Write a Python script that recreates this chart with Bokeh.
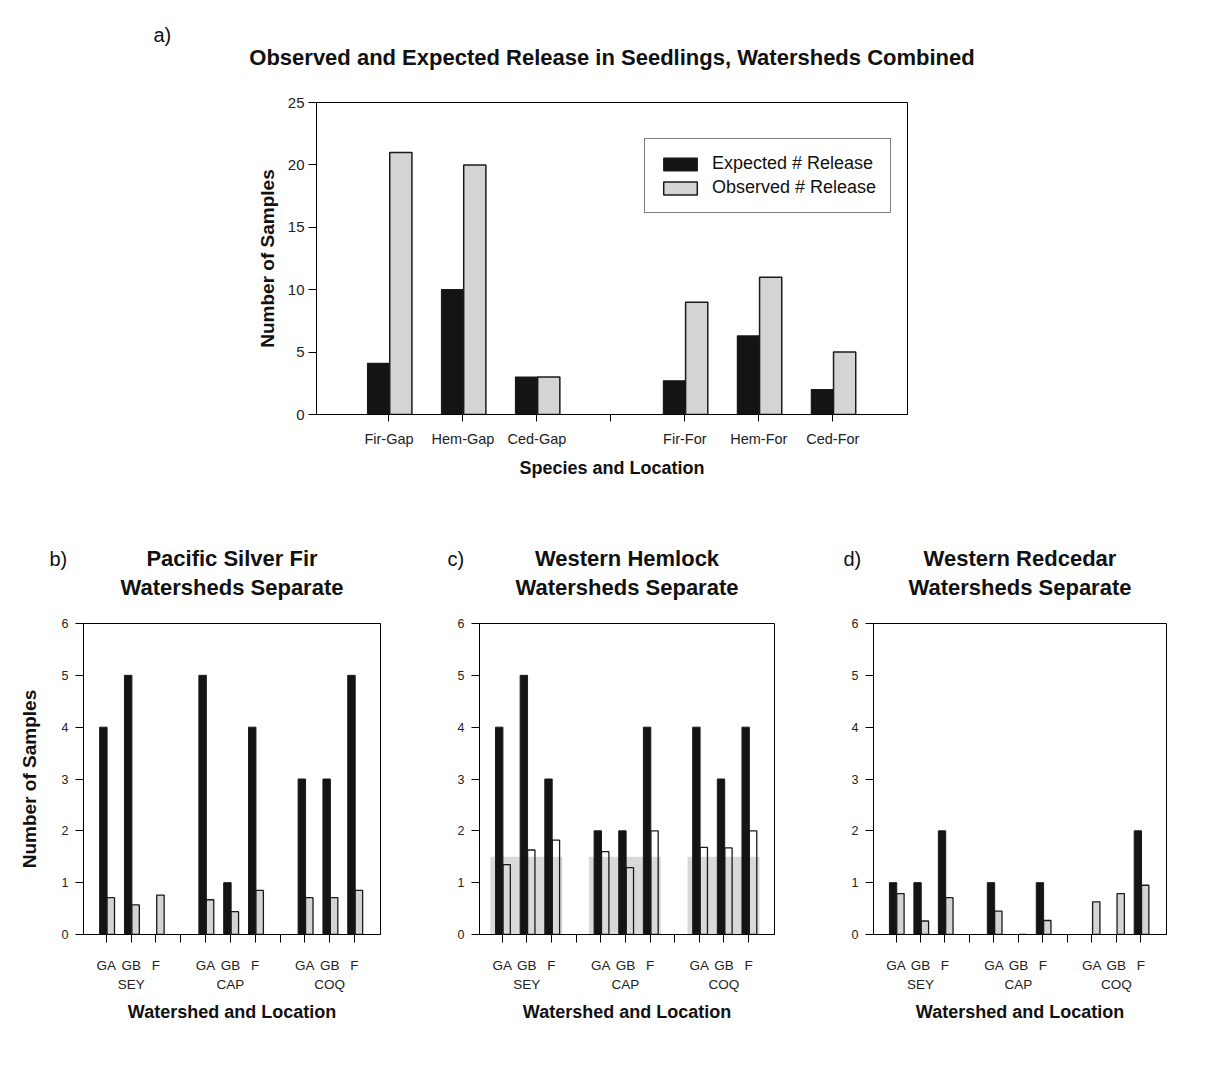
from bokeh.plotting import figure
from bokeh.models import (Range1d, FixedTicker, LinearAxis, Label, Legend,
                          LegendItem, ColumnDataSource)
from bokeh.layouts import column, row
from bokeh.embed import file_html
from bokeh.resources import INLINE

FONT = "Liberation Sans"

# ---------------- data ----------------
top_categories = ["Fir-Gap", "Hem-Gap", "Ced-Gap", "Fir-For", "Hem-For", "Ced-For"]
top_expected = [4.1, 10.0, 3.0, 2.7, 6.3, 2.0]
top_observed = [21, 20, 3, 9, 11, 5]

watersheds = ["SEY", "CAP", "COQ"]
locations = ["GA", "GB", "F"]

fir_black = [4, 5, 0, 5, 1, 4, 3, 3, 5]
fir_gray = [0.71, 0.57, 0.76, 0.67, 0.44, 0.85, 0.71, 0.71, 0.85]

hem_black = [4, 5, 3, 2, 2, 4, 4, 3, 4]
hem_white = [1.35, 1.63, 1.82, 1.60, 1.29, 2.0, 1.68, 1.67, 2.0]
hem_band = [1.5, 1.5, 1.5]

ced_black = [1, 1, 2, 1, 0, 1, 0, 0, 2]
ced_gray = [0.79, 0.26, 0.71, 0.45, 0.0, 0.27, 0.63, 0.79, 0.95]

BLACK = "#141414"
GRAY = "#d4d4d4"
EDGE = "#1a1a1a"
TXT = "#111111"


def style_common(p):
    p.outline_line_color = "black"
    p.outline_line_width = 1
    p.xgrid.visible = False
    p.ygrid.visible = False
    p.background_fill_color = "white"
    p.border_fill_color = "white"


def header(width, height, texts):
    """A blank figure that only carries title texts (pixel coordinates, y from top)."""
    h = figure(width=width, height=height, x_range=Range1d(0, width),
               y_range=Range1d(height, 0), output_backend="svg", toolbar_location=None,
               x_axis_type=None, y_axis_type=None, min_border=0)
    h.outline_line_color = None
    h.xgrid.visible = False
    h.ygrid.visible = False
    h.border_fill_color = "white"
    for txt, x, y, size, style, align in texts:
        h.add_layout(Label(x=x, y=y, text=txt, text_font=FONT, text_font_size=size,
                           text_font_style=style, text_align=align,
                           text_baseline="alphabetic", text_color=TXT))
    return h


# ---------------- top chart ----------------
head_a = header(1218, 90, [
    ("a)", 153, 34, "20px", "normal", "left"),
    ("Observed and Expected Release in Seedlings, Watersheds Combined", 611.5, 56.7,
     "22px", "bold", "center"),
])

top_pos = [i + 1 if i < 3 else i + 2 for i in range(len(top_categories))]
src_top = ColumnDataSource(dict(
    xe=[x - 0.15 + 0.01 for x in top_pos],
    xo=[x + 0.15 + 0.01 for x in top_pos],
    exp=top_expected, obs=top_observed))

pa = figure(width=1218, height=415, x_range=Range1d(0.02, 8.01), y_range=Range1d(0, 25),
            output_backend="svg", toolbar_location=None,
            min_border_left=316, min_border_right=311, min_border_top=12, min_border_bottom=91)
style_common(pa)
r_exp = pa.vbar(x="xe", top="exp", width=0.3, source=src_top, fill_color=BLACK,
                line_color=EDGE, line_width=1.2)
r_obs = pa.vbar(x="xo", top="obs", width=0.3, source=src_top, fill_color=GRAY,
                line_color=EDGE, line_width=1.5)

xa = pa.xaxis[0]
xa.ticker = FixedTicker(ticks=list(range(1, 8)))
ov = {i: "" for i in range(1, 8)}
for c, x in zip(top_categories, top_pos):
    ov[x] = c
xa.major_label_overrides = ov
xa.major_tick_out = 7
xa.major_tick_in = 0
xa.minor_tick_line_color = None
xa.major_label_standoff = 9
xa.major_label_text_font = FONT
xa.major_label_text_font_size = "14.5px"
xa.major_label_text_color = "#222222"
xa.axis_label = "Species and Location"
xa.axis_label_text_font = FONT
xa.axis_label_text_font_size = "18px"
xa.axis_label_text_font_style = "bold"
xa.axis_label_text_color = TXT
xa.axis_label_standoff = 8
xa.axis_line_color = "black"

ya = pa.yaxis[0]
ya.ticker = FixedTicker(ticks=[0, 5, 10, 15, 20, 25])
ya.major_tick_out = 8
ya.major_tick_in = 0
ya.minor_tick_line_color = None
ya.major_label_standoff = 4
ya.major_label_text_font = FONT
ya.major_label_text_font_size = "15px"
ya.major_label_text_color = "#222222"
ya.axis_label = "Number of Samples"
ya.axis_label_text_font = FONT
ya.axis_label_text_font_size = "19px"
ya.axis_label_text_font_style = "bold"
ya.axis_label_text_color = TXT
ya.axis_label_standoff = 7
ya.axis_line_color = "black"

legend = Legend(items=[LegendItem(label="Expected # Release", renderers=[r_exp]),
                       LegendItem(label="Observed # Release", renderers=[r_obs])],
                location=(328, 201), label_text_font=FONT, label_text_font_size="18px",
                label_text_color=TXT, glyph_width=42, glyph_height=16,
                label_height=21, label_standoff=11, spacing=3, padding=14, margin=0,
                border_line_color="black", border_line_width=1,
                background_fill_color="white", background_fill_alpha=1)
pa.add_layout(legend)


# ---------------- bottom panels ----------------
def panel(width, left, right, black, right_vals, right_fill, ylabel=False, band=None):
    pos = [4 * (k // 3) + (k % 3) + 1 for k in range(len(black))]
    src = ColumnDataSource(dict(xb=[x - 0.15 + 0.03 for x in pos],
                                xr=[x + 0.15 + 0.03 for x in pos],
                                b=black, r=right_vals))
    p = figure(width=width, height=471, x_range=Range1d(0.08, 12.05), y_range=Range1d(0, 6),
               output_backend="svg", toolbar_location=None,
               min_border_left=left, min_border_right=right, min_border_top=18,
               min_border_bottom=142)
    style_common(p)
    if band is not None:
        centers = [4 * g + 2 for g in range(len(watersheds))]
        p.quad(left=[c - 1.48 for c in centers], right=[c + 1.44 for c in centers],
               bottom=0, top=band, fill_color="#d9d9d9", line_color=None)
    p.vbar(x="xb", top="b", width=0.3, source=src, fill_color=BLACK, line_color=EDGE,
           line_width=1)
    p.vbar(x="xr", top="r", width=0.3, source=src, fill_color=right_fill, line_color=EDGE,
           line_width=1.3)

    xa = p.xaxis[0]
    xa.ticker = FixedTicker(ticks=list(range(1, 12)))
    ov = {i: "" for i in range(1, 12)}
    for k, x in enumerate(pos):
        ov[x] = locations[k % 3]
    xa.major_label_overrides = ov
    xa.major_tick_out = 8
    xa.major_tick_in = 0
    xa.minor_tick_line_color = None
    xa.major_label_standoff = 15
    xa.major_label_text_font = FONT
    xa.major_label_text_font_size = "13.5px"
    xa.major_label_text_color = "#222222"
    xa.axis_line_color = "black"

    ga = LinearAxis(ticker=FixedTicker(ticks=[4 * g + 2 for g in range(len(watersheds))]),
                    major_label_overrides={4 * g + 2: w for g, w in enumerate(watersheds)},
                    axis_line_color=None, major_tick_line_color=None,
                    minor_tick_line_color=None, major_tick_out=0, major_tick_in=0,
                    major_label_standoff=1, major_label_text_font=FONT,
                    major_label_text_font_size="13.5px", major_label_text_color="#222222",
                    axis_label="Watershed and Location", axis_label_text_font=FONT,
                    axis_label_text_font_size="18px", axis_label_text_font_style="bold",
                    axis_label_text_color=TXT, axis_label_standoff=7)
    p.add_layout(ga, "below")

    ya = p.yaxis[0]
    ya.ticker = FixedTicker(ticks=list(range(0, 7)))
    ya.major_tick_out = 8
    ya.major_tick_in = 0
    ya.minor_tick_line_color = None
    ya.major_label_standoff = 7
    ya.major_label_text_font = FONT
    ya.major_label_text_font_size = "12.5px"
    ya.major_label_text_color = "#222222"
    ya.axis_line_color = "black"
    if ylabel:
        ya.axis_label = "Number of Samples"
        ya.axis_label_text_font = FONT
        ya.axis_label_text_font_size = "19px"
        ya.axis_label_text_font_style = "bold"
        ya.axis_label_text_color = TXT
        ya.axis_label_standoff = 19
    return p


def panel_header(width, letter, letter_x, center_x, title1, title2):
    return header(width, 100, [
        (letter, letter_x, 53, "20px", "normal", "left"),
        (title1, center_x, 53, "22px", "bold", "center"),
        (title2, center_x, 82, "22px", "bold", "center"),
    ])


hb = panel_header(420, "b)", 49, 231.5, "Pacific Silver Fir", "Watersheds Separate")
hc = panel_header(395, "c)", 27, 206.5, "Western Hemlock", "Watersheds Separate")
hd = panel_header(403, "d)", 28, 204.5, "Western Redcedar", "Watersheds Separate")

pb = panel(420, 83, 40, fir_black, fir_gray, GRAY, ylabel=True)
pc = panel(395, 59, 41, hem_black, hem_white, None, band=hem_band)
pd = panel(403, 58, 52, ced_black, ced_gray, GRAY)

layout = column(row(head_a), row(pa), row(hb, hc, hd), row(pb, pc, pd), spacing=0)
open("out.html", "w").write(file_html(layout, INLINE))
